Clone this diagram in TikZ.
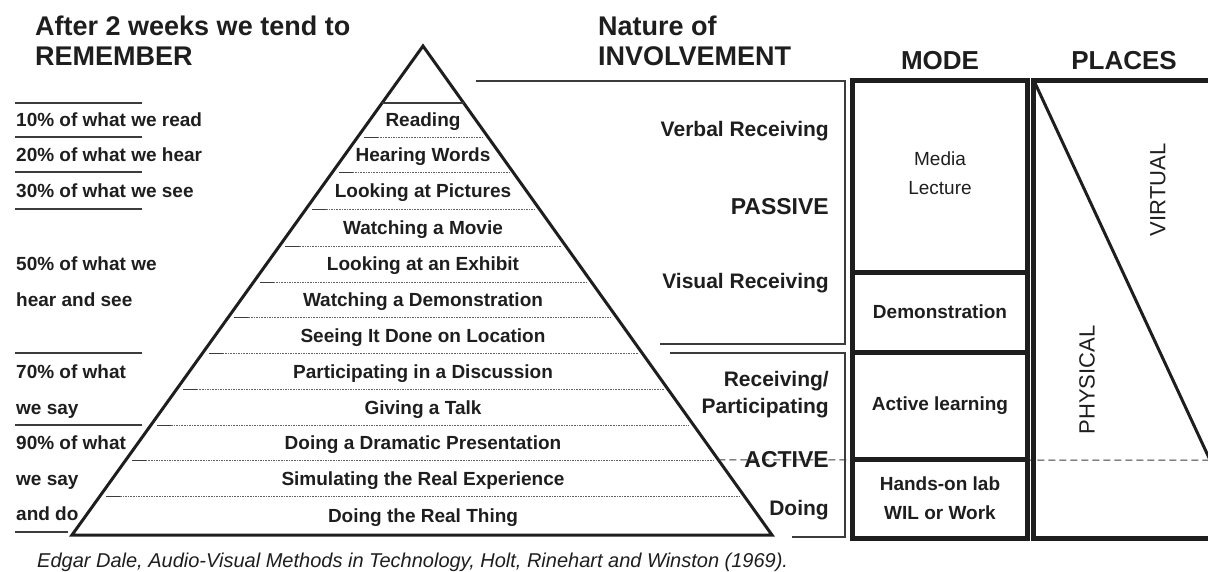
\documentclass[tikz,border=0pt]{standalone}
\usepackage{fontspec}
\setmainfont{Liberation Sans}
\usepackage{tikz}
\usetikzlibrary{calc}
\definecolor{Ink}{RGB}{30,30,30}
\definecolor{Rule}{RGB}{60,60,60}

\begin{document}
\begin{tikzpicture}[x=1pt, y=-1pt,
		head/.style={font=\fontsize{27}{30}\selectfont\bfseries, text=Ink, inner sep=0pt, anchor=base west},
		colhead/.style={font=\fontsize{26}{30}\selectfont\bfseries, text=Ink, inner sep=0pt, anchor=base},
		rowtxt/.style={font=\fontsize{19}{22}\selectfont\bfseries, text=Ink, inner sep=0pt, anchor=base},
		lefttxt/.style={font=\fontsize{19}{22}\selectfont\bfseries, text=Ink, inner sep=0pt, anchor=base west},
		invtxt/.style={font=\fontsize{21}{24}\selectfont\bfseries, text=Ink, inner sep=0pt, anchor=base east},
		bigtxt/.style={font=\fontsize{23}{26}\selectfont\bfseries, text=Ink, inner sep=0pt, anchor=base east},
		modetxt/.style={font=\fontsize{19}{22}\selectfont\bfseries, text=Ink, inner sep=0pt, anchor=base},
		placetxt/.style={font=\fontsize{22}{26}\selectfont, text=Ink, inner sep=0pt, rotate=90},
		thin/.style={line width=1.1pt, Rule},
		dotrule/.style={line width=0.8pt, Rule!80, dash pattern=on 1.6pt off 1pt},
		thick box/.style={line width=5pt, Ink}
	]
	\useasboundingbox (0,0) rectangle (1208,572);
	% headers
	\node[head] (after) at (35,36) {After 2 weeks we tend to};
	\node[head] (remember) at (35,66) {REMEMBER};
	\node[head] (nature) at (598,36) {Nature of};
	\node[head] (involvement) at (598,66) {INVOLVEMENT};
	\node[colhead] (mode) at (940,70) {MODE};
	\node[colhead] (places) at (1124,70) {PLACES};
	% pyramid
	\coordinate (Top) at (423,46);
	\coordinate (BL) at (72,535);
	\coordinate (BR) at (772,535);
	\draw[Ink, line width=3pt, line join=miter] (BL) -- (Top) -- (BR) -- cycle;
	\draw[thin] ($(Top)!{57/489}!(BL)$) -- ($(Top)!{57/489}!(BR)$);
	\foreach \y in {137,172,209,246,282,317,353,389,425,460,496} {
		\coordinate (L) at ($(Top)!{(\y-46)/489}!(BL)+(6,0)$);
		\coordinate (R) at ($(Top)!{(\y-46)/489}!(BR)+(-4,0)$);
		\draw[thin, line width=0.9pt] (L) -- ++(14,0);
		\draw[dotrule] ($(L)+(14,0)$) -- (R);
	}
	% rows of the cone
	\foreach \txt/\yb [count=\i] in {Reading/127, Hearing Words/161.5, Looking at Pictures/197.5,
		Watching a Movie/234.5, Looking at an Exhibit/271, Watching a Demonstration/306.5,
		Seeing It Done on Location/342, Participating in a Discussion/378, Giving a Talk/414,
		Doing a Dramatic Presentation/449.5, Simulating the Real Experience/485, Doing the Real Thing/522}
		\node[rowtxt] (row\i) at (423,\yb) {\txt};
	% what we remember
	\foreach \y in {103,137,172,209,353,425}
		\draw[thin] (15,\y) -- (142,\y);
	\draw[thin] (15,532) -- (68,532);
	\foreach \txt/\yb [count=\i] in {10\% of what we read/127, 20\% of what we hear/161.5,
		30\% of what we see/197.5, 50\% of what we/271, hear and see/306.5, 70\% of what/378,
		we say/414, 90\% of what/449.5, we say/485, and do/520}
		\node[lefttxt] (pct\i) at (16,\yb) {\txt};
	% nature of involvement
	\draw[thin] (476,81) -- (845,81) -- (845,344) -- (660,344);
	\draw[thin] (670,353) -- (845,353) -- (845,537) -- (792,537);
	\draw[Rule, line width=1pt, dash pattern=on 7pt off 4pt] ($(Top)!{414/489}!(BR)$) -- (1208,460);
	\node[invtxt] (verbal) at (829,137) {Verbal Receiving};
	\node[bigtxt] (passive) at (829,215) {PASSIVE};
	\node[invtxt] (visual) at (829,288) {Visual Receiving};
	\node[invtxt] (receiving) at (829,386) {Receiving/};
	\node[invtxt] (participating) at (829,413) {Participating};
	\node[bigtxt] (active) at (829,467) {ACTIVE};
	\node[invtxt] (doing) at (829,515) {Doing};
	% mode
	\draw[thick box] (852,81) rectangle (1027,538);
	\draw[thick box] (852,273) -- (1027,273);
	\draw[thick box] (852,352) -- (1027,352);
	\draw[thick box] (852,459) -- (1027,459);
	\node[modetxt, font=\fontsize{19}{22}\selectfont] (media) at (940,166) {Media};
	\node[modetxt, font=\fontsize{19}{22}\selectfont] (lecture) at (940,195) {Lecture};
	\node[modetxt] (demo) at (940,319) {Demonstration};
	\node[modetxt] (activelearning) at (940,410) {Active learning};
	\node[modetxt] (handson) at (940,490) {Hands-on lab};
	\node[modetxt] (wil) at (940,519) {WIL or Work};
	% places
	\draw[thick box] (1208,81) -- (1033,81) -- (1033,538) -- (1208,538);
	\draw[Ink, line width=3pt] (1035,83) -- (1210,460);
	\node[placetxt] (virtual) at (1158,190) {VIRTUAL};
	\node[placetxt] (physical) at (1087,380) {PHYSICAL};
	% source
	\node[font=\fontsize{20}{23}\selectfont\itshape, text=Ink, inner sep=0pt, anchor=base west] (source) at (37,567)
		{Edgar Dale, Audio-Visual Methods in Technology, Holt, Rinehart and Winston (1969).};
\end{tikzpicture}
\end{document}
